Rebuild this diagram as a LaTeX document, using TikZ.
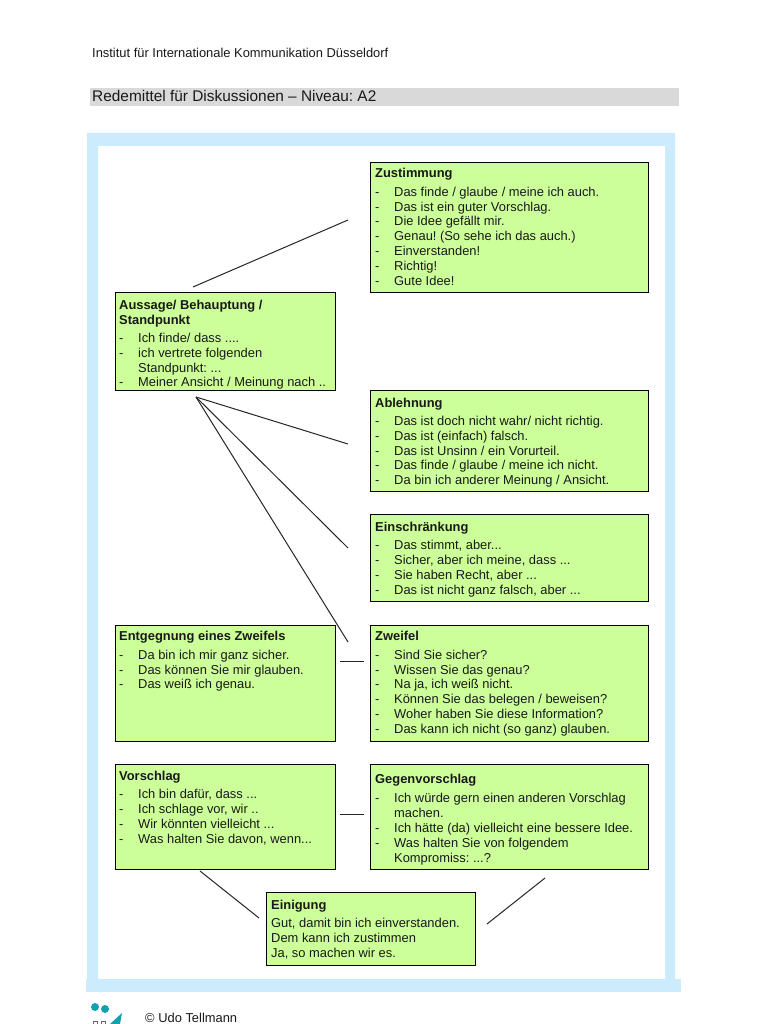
\documentclass[tikz,border=0pt]{standalone}
\usepackage{fontspec}
\setmainfont{Liberation Sans}
\frenchspacing
\definecolor{frameblue}{RGB}{204,235,253}
\definecolor{boxgreen}{RGB}{204,255,153}
\definecolor{bargray}{RGB}{217,217,217}
\definecolor{teal1}{RGB}{20,160,175}
\newcount\tlc
\newcommand\tl[3]{\global\advance\tlc by 1 \node[txt] (t\the\tlc) at (#1,#2+0.6) {#3};}
\newcommand\hd[3]{\tl{#1}{#2}{\bfseries #3}}
\newcommand\bul[3]{\tl{#1}{#2}{-}\tl{#1+19}{#2}{#3}}
\newcommand\bx[5]{\node[gbox,minimum width=#4 pt-#2 pt-0.6pt,minimum height=#5 pt-#3 pt-0.4pt] (#1) at (#2,#3) {};}
\tikzset{
 txt/.style={anchor=base west,inner sep=0pt,font=\fontsize{12.9}{14}\selectfont,text=black!90},
 gbox/.style={draw=black,fill=boxgreen,line width=0.9pt,inner sep=0pt,anchor=north west},
 conn/.style={draw=black!85,line width=1pt},
}
\begin{document}
\begin{tikzpicture}[x=1pt,y=-1pt]
\useasboundingbox (0,0) rectangle (768,1024);
\fill[white] (0,0) rectangle (768,1024);
\node[txt] (inst) at (92,58) {Institut für Internationale Kommunikation Düsseldorf};
\fill[bargray] (90,88) rectangle (679,106);
\node[txt,font=\fontsize{15.4}{17}\selectfont] (title) at (92,102) {Redemittel für Diskussionen – Niveau: A2};
\fill[frameblue,even odd rule] (87,133) rectangle (675,979) (98,146) rectangle (665,979);
\fill[frameblue] (86,979) rectangle (681,992);
\bx{zu}{370}{162}{649}{292}
\bx{au}{115}{292}{336}{390}
\bx{ab}{370}{390}{649}{491}
\bx{ei}{370}{514}{649}{601}
\bx{en}{115}{625}{336}{741}
\bx{zw}{370}{625}{649}{741}
\bx{vo}{115}{764}{336}{869}
\bx{ge}{370}{764}{649}{869}
\bx{eg}{266}{892}{476}{965}
% connectors
\coordinate (c1a) at (193,287); \coordinate (c1b) at (348,220);
\coordinate (h) at (196,397);
\coordinate (c2) at (348,444); \coordinate (c3) at (348,548); \coordinate (c4) at (348,642);
\coordinate (c5a) at (340,661); \coordinate (c5b) at (364,661);
\coordinate (c6a) at (340,814); \coordinate (c6b) at (364,814);
\coordinate (c7a) at (200,871); \coordinate (c7b) at (259,918);
\coordinate (c8a) at (545,878); \coordinate (c8b) at (487,924);
\draw[conn] (c1a) -- (c1b);
\draw[conn] (h) -- (c2);
\draw[conn] (h) -- (c3);
\draw[conn] (h) -- (c4);
\draw[conn] (c5a) -- (c5b);
\draw[conn] (c6a) -- (c6b);
\draw[conn] (c7a) -- (c7b);
\draw[conn] (c8a) -- (c8b);
% Zustimmung
\hd{375}{177}{Zustimmung}
\bul{375}{196}{Das finde / glaube / meine ich auch.}
\bul{375}{211}{Das ist ein guter Vorschlag.}
\bul{375}{225}{Die Idee gefällt mir.}
\bul{375}{240}{Genau! (So sehe ich das auch.)}
\bul{375}{255}{Einverstanden!}
\bul{375}{270}{Richtig!}
\bul{375}{285}{Gute Idee!}
% Aussage
\hd{119}{309}{Aussage/ Behauptung /}
\hd{119}{324}{Standpunkt}
\bul{119}{342}{Ich finde/ dass ....}
\bul{119}{357}{ich vertrete folgenden}
\tl{138}{372}{Standpunkt: ...}
\bul{119}{386}{Meiner Ansicht / Meinung nach ..}
% Ablehnung
\hd{375}{407}{Ablehnung}
\bul{375}{425}{Das ist doch nicht wahr/ nicht richtig.}
\bul{375}{440}{Das ist (einfach) falsch.}
\bul{375}{455}{Das ist Unsinn / ein Vorurteil.}
\bul{375}{469}{Das finde / glaube / meine ich nicht.}
\bul{375}{484}{Da bin ich anderer Meinung / Ansicht.}
% Einschraenkung
\hd{375}{531}{Einschränkung}
\bul{375}{549}{Das stimmt, aber...}
\bul{375}{564}{Sicher, aber ich meine, dass ...}
\bul{375}{579}{Sie haben Recht, aber ...}
\bul{375}{594}{Das ist nicht ganz falsch, aber ...}
% Entgegnung
\hd{119}{640}{Entgegnung eines Zweifels}
\bul{119}{659}{Da bin ich mir ganz sicher.}
\bul{119}{674}{Das können Sie mir glauben.}
\bul{119}{688}{Das weiß ich genau.}
% Zweifel
\hd{375}{640}{Zweifel}
\bul{375}{659}{Sind Sie sicher?}
\bul{375}{674}{Wissen Sie das genau?}
\bul{375}{688}{Na ja, ich weiß nicht.}
\bul{375}{703}{Können Sie das belegen / beweisen?}
\bul{375}{718}{Woher haben Sie diese Information?}
\bul{375}{733}{Das kann ich nicht (so ganz) glauben.}
% Vorschlag
\hd{119}{780}{Vorschlag}
\bul{119}{798}{Ich bin dafür, dass ...}
\bul{119}{813}{Ich schlage vor, wir ..}
\bul{119}{828}{Wir könnten vielleicht ...}
\bul{119}{843}{Was halten Sie davon, wenn...}
% Gegenvorschlag
\hd{375}{783}{Gegenvorschlag}
\bul{375}{802}{Ich würde gern einen anderen Vorschlag}
\tl{394}{817}{machen.}
\bul{375}{832}{Ich hätte (da) vielleicht eine bessere Idee.}
\bul{375}{847}{Was halten Sie von folgendem}
\tl{394}{862}{Kompromiss: ...?}
% Einigung
\hd{271}{909}{Einigung}
\tl{271}{927}{Gut, damit bin ich einverstanden.}
\tl{271}{942}{Dem kann ich zustimmen}
\tl{271}{957}{Ja, so machen wir es.}
% footer
\node[txt] (cr) at (145,1022) {© Udo Tellmann};
\fill[teal1] (95,1007) circle (4);
\fill[teal1] (105,1009) circle (4);
\fill[teal1] (110,1024) -- (122,1013) -- (120,1024) -- cycle;
\draw[black!60,line width=0.5pt] (93,1021) rectangle (97,1024) (101,1021) rectangle (105,1024);
\end{tikzpicture}
\end{document}
